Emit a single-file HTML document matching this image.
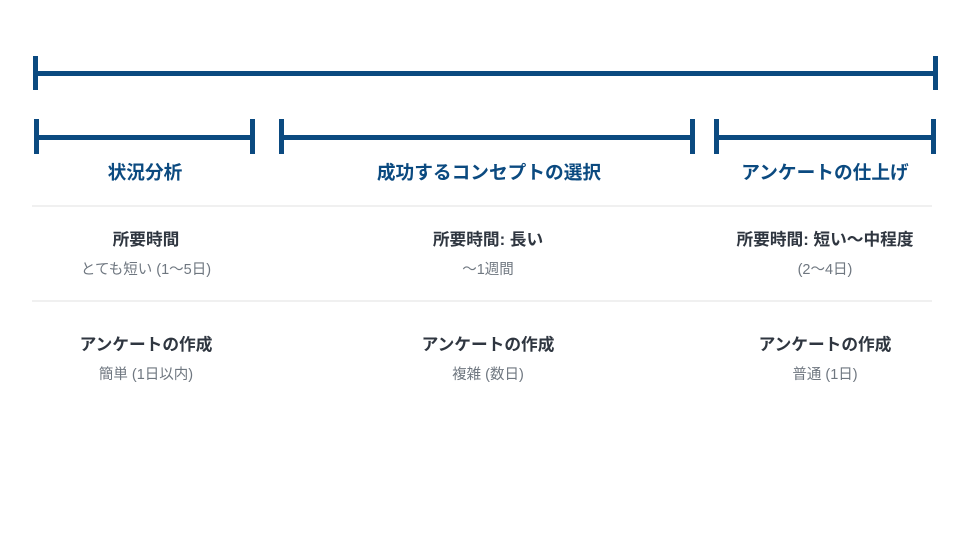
<!DOCTYPE html>
<html><head><meta charset="utf-8"><style>
html,body{margin:0;padding:0;background:#fff;width:980px;height:549px;overflow:hidden}
svg{display:block}
text{font-family:"Liberation Sans","Noto Sans CJK JP",sans-serif;text-anchor:middle}
.h{font-size:18.7px;font-weight:bold;fill:#0b4a80}
.b{font-size:16.7px;font-weight:bold;fill:#2f3640}
.g{font-size:14.5px;fill:#6f7780}
</style></head><body>
<svg width="980" height="549" viewBox="0 0 980 549">
<g fill="#0b4a80">
<rect x="33" y="71" width="905" height="5"/>
<rect x="33" y="56" width="5" height="34"/>
<rect x="933" y="56" width="5" height="34"/>
<rect x="34" y="135" width="221" height="5"/>
<rect x="34" y="119" width="5" height="35"/>
<rect x="250" y="119" width="5" height="35"/>
<rect x="279" y="135" width="416" height="5"/>
<rect x="279" y="119" width="5" height="35"/>
<rect x="690" y="119" width="5" height="35"/>
<rect x="714" y="135" width="222" height="5"/>
<rect x="714" y="119" width="5" height="35"/>
<rect x="931" y="119" width="5" height="35"/>
</g>
<rect x="32" y="205" width="900" height="2" fill="#f0f0f0"/>
<rect x="32" y="300" width="900" height="2" fill="#f0f0f0"/>
<text class="h" x="145" y="179">状況分析</text>
<text class="h" x="489" y="179">成功するコンセプトの選択</text>
<text class="h" x="825" y="179">アンケートの仕上げ</text>
<text class="b" x="146" y="245">所要時間</text>
<text class="g" x="146" y="274">とても短い (1〜5日)</text>
<text class="b" x="488" y="245">所要時間: 長い</text>
<text class="g" x="488" y="274">〜1週間</text>
<text class="b" x="825" y="245">所要時間: 短い〜中程度</text>
<text class="g" x="825" y="274">(2〜4日)</text>
<text class="b" x="146" y="350">アンケートの作成</text>
<text class="g" x="146" y="379">簡単 (1日以内)</text>
<text class="b" x="488" y="350">アンケートの作成</text>
<text class="g" x="488" y="379">複雑 (数日)</text>
<text class="b" x="825" y="350">アンケートの作成</text>
<text class="g" x="825" y="379">普通 (1日)</text>
</svg>
</body></html>
